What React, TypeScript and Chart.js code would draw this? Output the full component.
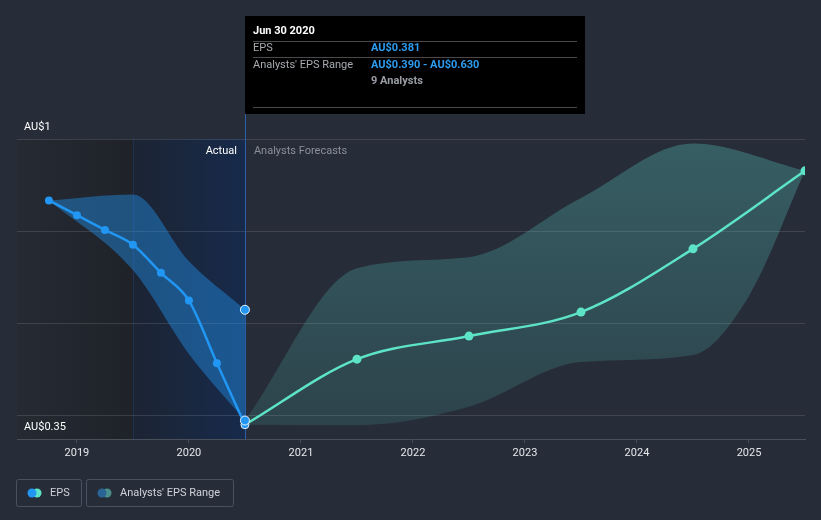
import React, { useEffect, useRef } from 'react';
import { Chart, registerables } from 'chart.js';

Chart.register(...registerables);

// ---- data ----
const actualDates = [2018.75, 2019.0, 2019.25, 2019.5, 2019.75, 2020.0, 2020.25, 2020.5];
const actualEps = [0.867, 0.835, 0.803, 0.771, 0.71, 0.65, 0.514, 0.381];

const actualRangeDates = [2018.75, 2019.5, 2020.0, 2020.5];
const actualRangeHigh = [0.867, 0.88, 0.735, 0.63];
const actualRangeLow = [0.867, 0.716, 0.534, 0.39];

const forecastDates = [2020.5, 2021.5, 2022.5, 2023.5, 2024.5, 2025.5];
const forecastEps = [0.381, 0.523, 0.573, 0.625, 0.762, 0.931];

const forecastHighDates = [2020.5, 2021.5, 2022.5, 2023.5, 2024.5, 2025.5];
const forecastHigh = [0.39, 0.72, 0.744, 0.872, 0.99, 0.931];
const forecastLowDates = [2020.5, 2021.5, 2022.5, 2023.5, 2024.5, 2025.0, 2025.5];
const forecastLow = [0.381, 0.38, 0.42, 0.517, 0.532, 0.66, 0.931];

const yearTicks = [2019, 2020, 2021, 2022, 2023, 2024, 2025];
const gridValues = [0.4, 0.6, 0.8, 1.0];
const yLabelValues = [1.0, 0.35];
const yLabelTexts = ['AU$1', 'AU$0.35'];

const highlightStart = 2019.5;
const nowDate = 2020.5;
const xMin = 2018.465;
const xMax = 2025.5;
const yMin = 0.35;
const yMax = 1.0;

const tooltipTitle = 'Jun 30 2020';
const tooltipAnalysts = 9;
const legendLabels = ['EPS', "Analysts' EPS Range"];

// ---- styles ----
const BG = '#262c38';
const BLUE = '#2196f3';
const TEAL = '#5de4c7';
const FONT = 'Roboto, "Noto Sans", sans-serif';
const FS = 11;

const pts = (xs: number[], ys: number[]) => xs.map((x, i) => ({ x, y: ys[i] }));
const fmt = (v: number) => 'AU$' + v.toFixed(3);

function roundRect(ctx: CanvasRenderingContext2D, x: number, y: number, w: number, h: number, r: number) {
  ctx.beginPath();
  ctx.moveTo(x + r, y);
  ctx.lineTo(x + w - r, y);
  ctx.arcTo(x + w, y, x + w, y + r, r);
  ctx.lineTo(x + w, y + h - r);
  ctx.arcTo(x + w, y + h, x + w - r, y + h, r);
  ctx.lineTo(x + r, y + h);
  ctx.arcTo(x, y + h, x, y + h - r, r);
  ctx.lineTo(x, y + r);
  ctx.arcTo(x, y, x + r, y, r);
  ctx.closePath();
}

const decorPlugin = {
  id: 'decor',
  beforeDraw(chart: any) {
    const { ctx, chartArea: ca, scales } = chart;
    const xs = scales.x;
    ctx.save();
    ctx.fillStyle = BG;
    ctx.fillRect(0, 0, chart.width, chart.height);
    const xh = xs.getPixelForValue(highlightStart);
    const xn = xs.getPixelForValue(nowDate);
    let g = ctx.createLinearGradient(ca.left, 0, xh, 0);
    g.addColorStop(0, '#252a33');
    g.addColorStop(1, '#1f2229');
    ctx.fillStyle = g;
    ctx.fillRect(ca.left, ca.top, xh - ca.left, ca.bottom - ca.top);
    g = ctx.createLinearGradient(xh, 0, xn, 0);
    g.addColorStop(0, '#1c2433');
    g.addColorStop(1, '#172a4b');
    ctx.fillStyle = g;
    ctx.fillRect(xh, ca.top, xn - xh, ca.bottom - ca.top);
    ctx.strokeStyle = '#1f3152';
    ctx.lineWidth = 1;
    ctx.beginPath();
    ctx.moveTo(Math.round(xh) + 0.5, ca.top);
    ctx.lineTo(Math.round(xh) + 0.5, ca.bottom);
    ctx.stroke();
    ctx.restore();
  },
  beforeDatasetsDraw(chart: any) {
    const { ctx, chartArea: ca, scales } = chart;
    const xn = scales.x.getPixelForValue(nowDate);
    ctx.save();
    ctx.strokeStyle = '#2a5ea8';
    ctx.lineWidth = 1;
    ctx.beginPath();
    ctx.moveTo(Math.round(xn) + 0.5, 114);
    ctx.lineTo(Math.round(xn) + 0.5, ca.bottom);
    ctx.stroke();
    ctx.restore();
  },
  afterDraw(chart: any) {
    const { ctx, chartArea: ca, scales } = chart;
    const xs = scales.x;
    const ys = scales.y;
    const xn = xs.getPixelForValue(nowDate);
    ctx.save();
    ctx.textBaseline = 'middle';

    // y labels
    ctx.font = FS + 'px ' + FONT;
    ctx.fillStyle = '#ffffff';
    ctx.textAlign = 'left';
    yLabelValues.forEach((v, i) => {
      ctx.fillText(yLabelTexts[i], 24, ys.getPixelForValue(v) - 12);
    });

    // Actual / Forecast captions
    ctx.textAlign = 'right';
    ctx.fillStyle = '#ffffff';
    ctx.fillText('Actual', xn - 8, ca.top + 12);
    ctx.textAlign = 'left';
    ctx.fillStyle = '#8b9099';
    ctx.fillText('Analysts Forecasts', xn + 9, ca.top + 12);

    // tooltip box
    const tl = Math.round(xn);
    ctx.fillStyle = '#000000';
    ctx.fillRect(tl, 16, 340, 98);
    ctx.strokeStyle = '#4a4a4a';
    ctx.lineWidth = 1;
    [41, 57, 107].forEach((yy) => {
      ctx.beginPath();
      ctx.moveTo(tl + 8, yy + 0.5);
      ctx.lineTo(tl + 332, yy + 0.5);
      ctx.stroke();
    });
    ctx.textAlign = 'left';
    ctx.font = 'bold ' + FS + 'px ' + FONT;
    ctx.fillStyle = '#ffffff';
    ctx.fillText(tooltipTitle, tl + 8, 31);
    ctx.font = FS + 'px ' + FONT;
    ctx.fillStyle = '#a7abb0';
    ctx.fillText('EPS', tl + 8, 48);
    ctx.fillText("Analysts' EPS Range", tl + 8, 65);
    ctx.font = 'bold ' + FS + 'px ' + FONT;
    ctx.fillStyle = '#2d9cf0';
    ctx.fillText(fmt(actualEps[actualEps.length - 1]), tl + 126, 48);
    ctx.fillText(
      fmt(actualRangeLow[actualRangeLow.length - 1]) + ' - ' + fmt(actualRangeHigh[actualRangeHigh.length - 1]),
      tl + 126,
      65
    );
    ctx.fillStyle = '#9a9ea4';
    ctx.fillText(tooltipAnalysts + ' Analysts', tl + 126, 81);

    // legend
    ctx.font = FS + 'px ' + FONT;
    ctx.strokeStyle = '#4a5261';
    ctx.lineWidth = 1;
    roundRect(ctx, 16.5, 479.5, 65, 27, 2);
    ctx.stroke();
    roundRect(ctx, 86.5, 479.5, 147, 27, 2);
    ctx.stroke();
    const circ = (cx: number, color: string) => {
      ctx.beginPath();
      ctx.arc(cx, 493, 4.5, 0, Math.PI * 2);
      ctx.fillStyle = color;
      ctx.fill();
    };
    circ(37, TEAL);
    circ(32, BLUE);
    circ(107, '#4a8f8a');
    circ(102, '#2a6496');
    ctx.fillStyle = '#cfd3d9';
    ctx.textAlign = 'left';
    ctx.fillText(legendLabels[0], 50, 493);
    ctx.fillText(legendLabels[1], 120, 493);
    ctx.restore();
  },
};

export default function App() {
  const ref = useRef<HTMLCanvasElement | null>(null);
  useEffect(() => {
    document.body.style.margin = '0';
    document.body.style.background = BG;
    const canvas = ref.current;
    if (!canvas) return;
    const lastIdx = actualEps.length - 1;
    const chart = new Chart(canvas, {
      type: 'line',
      data: {
        datasets: [
          {
            label: 'range markers',
            data: [
              { x: nowDate, y: actualRangeHigh[actualRangeHigh.length - 1] },
              { x: nowDate, y: actualRangeLow[actualRangeLow.length - 1] },
            ],
            showLine: false,
            pointRadius: 4.5,
            pointBackgroundColor: BLUE,
            pointBorderColor: '#e8f2ff',
            pointBorderWidth: 1,
          },
          {
            label: 'EPS',
            data: pts(actualDates, actualEps),
            borderColor: BLUE,
            borderWidth: 2.5,
            cubicInterpolationMode: 'monotone',
            pointRadius: 4,
            pointBackgroundColor: BLUE,
            pointBorderColor: (c: any) => (c.dataIndex === lastIdx ? '#e8f2ff' : BLUE),
            pointBorderWidth: (c: any) => (c.dataIndex === lastIdx ? 1 : 0),
            fill: false,
          },
          {
            label: 'EPS forecast',
            data: pts(forecastDates, forecastEps),
            borderColor: TEAL,
            borderWidth: 2.5,
            cubicInterpolationMode: 'monotone',
            pointRadius: (c: any) => (c.dataIndex === 0 ? 0 : 4.5),
            pointBackgroundColor: TEAL,
            pointBorderWidth: 0,
            fill: false,
          },
          {
            label: 'actual high',
            data: pts(actualRangeDates, actualRangeHigh),
            borderWidth: 0,
            borderColor: 'rgba(0,0,0,0)',
            pointRadius: 0,
            cubicInterpolationMode: 'monotone',
            backgroundColor: 'rgba(33,150,243,0.42)',
            fill: '+1',
          },
          {
            label: 'actual low',
            data: pts(actualRangeDates, actualRangeLow),
            borderWidth: 0,
            borderColor: 'rgba(0,0,0,0)',
            pointRadius: 0,
            cubicInterpolationMode: 'monotone',
            fill: false,
          },
          {
            label: 'forecast high',
            data: pts(forecastHighDates, forecastHigh),
            borderWidth: 0,
            borderColor: 'rgba(0,0,0,0)',
            pointRadius: 0,
            cubicInterpolationMode: 'monotone',
            backgroundColor: (c: any) => {
              const ca = c.chart.chartArea;
              if (!ca) return 'rgba(88,200,190,0.22)';
              const g = c.chart.ctx.createLinearGradient(0, ca.top, 0, ca.bottom);
              g.addColorStop(0, 'rgba(88,200,190,0.32)');
              g.addColorStop(1, 'rgba(88,200,190,0.14)');
              return g;
            },
            fill: '+1',
          },
          {
            label: 'forecast low',
            data: pts(forecastLowDates, forecastLow),
            borderWidth: 0,
            borderColor: 'rgba(0,0,0,0)',
            pointRadius: 0,
            cubicInterpolationMode: 'monotone',
            fill: false,
          },
        ],
      },
      options: {
        animation: false,
        responsive: false,
        maintainAspectRatio: false,
        layout: { padding: { left: 17, right: 16, top: 139, bottom: 0 } },
        plugins: { legend: { display: false }, tooltip: { enabled: false } },
        scales: {
          x: {
            type: 'linear',
            min: xMin,
            max: xMax,
            afterBuildTicks: (s: any) => {
              s.ticks = yearTicks.map((v) => ({ value: v }));
            },
            afterFit: (s: any) => {
              s.height = 81;
            },
            ticks: {
              color: '#e6e8eb',
              font: { family: FONT, size: FS },
              padding: 4,
              maxRotation: 0,
              autoSkip: false,
              callback: (v: any) => String(v),
            },
            grid: { drawOnChartArea: false, drawTicks: true, tickLength: 4, color: '#4a505b' },
            border: { display: true, color: '#4a505b', width: 1 },
          },
          y: {
            type: 'linear',
            min: yMin,
            max: yMax,
            afterBuildTicks: (s: any) => {
              s.ticks = gridValues.map((v) => ({ value: v }));
            },
            afterFit: (s: any) => {
              s.width = 0;
            },
            ticks: { display: false },
            grid: { color: 'rgba(255,255,255,0.12)', drawTicks: false, lineWidth: 1 },
            border: { display: false },
          },
        },
      },
      plugins: [decorPlugin],
    } as any);
    return () => chart.destroy();
  }, []);
  return (
    <div style={{ position: 'fixed', left: 0, top: 0, width: 821, height: 520, background: BG }}>
      <canvas ref={ref} width={821} height={520} style={{ width: 821, height: 520, display: 'block' }} />
    </div>
  );
}
